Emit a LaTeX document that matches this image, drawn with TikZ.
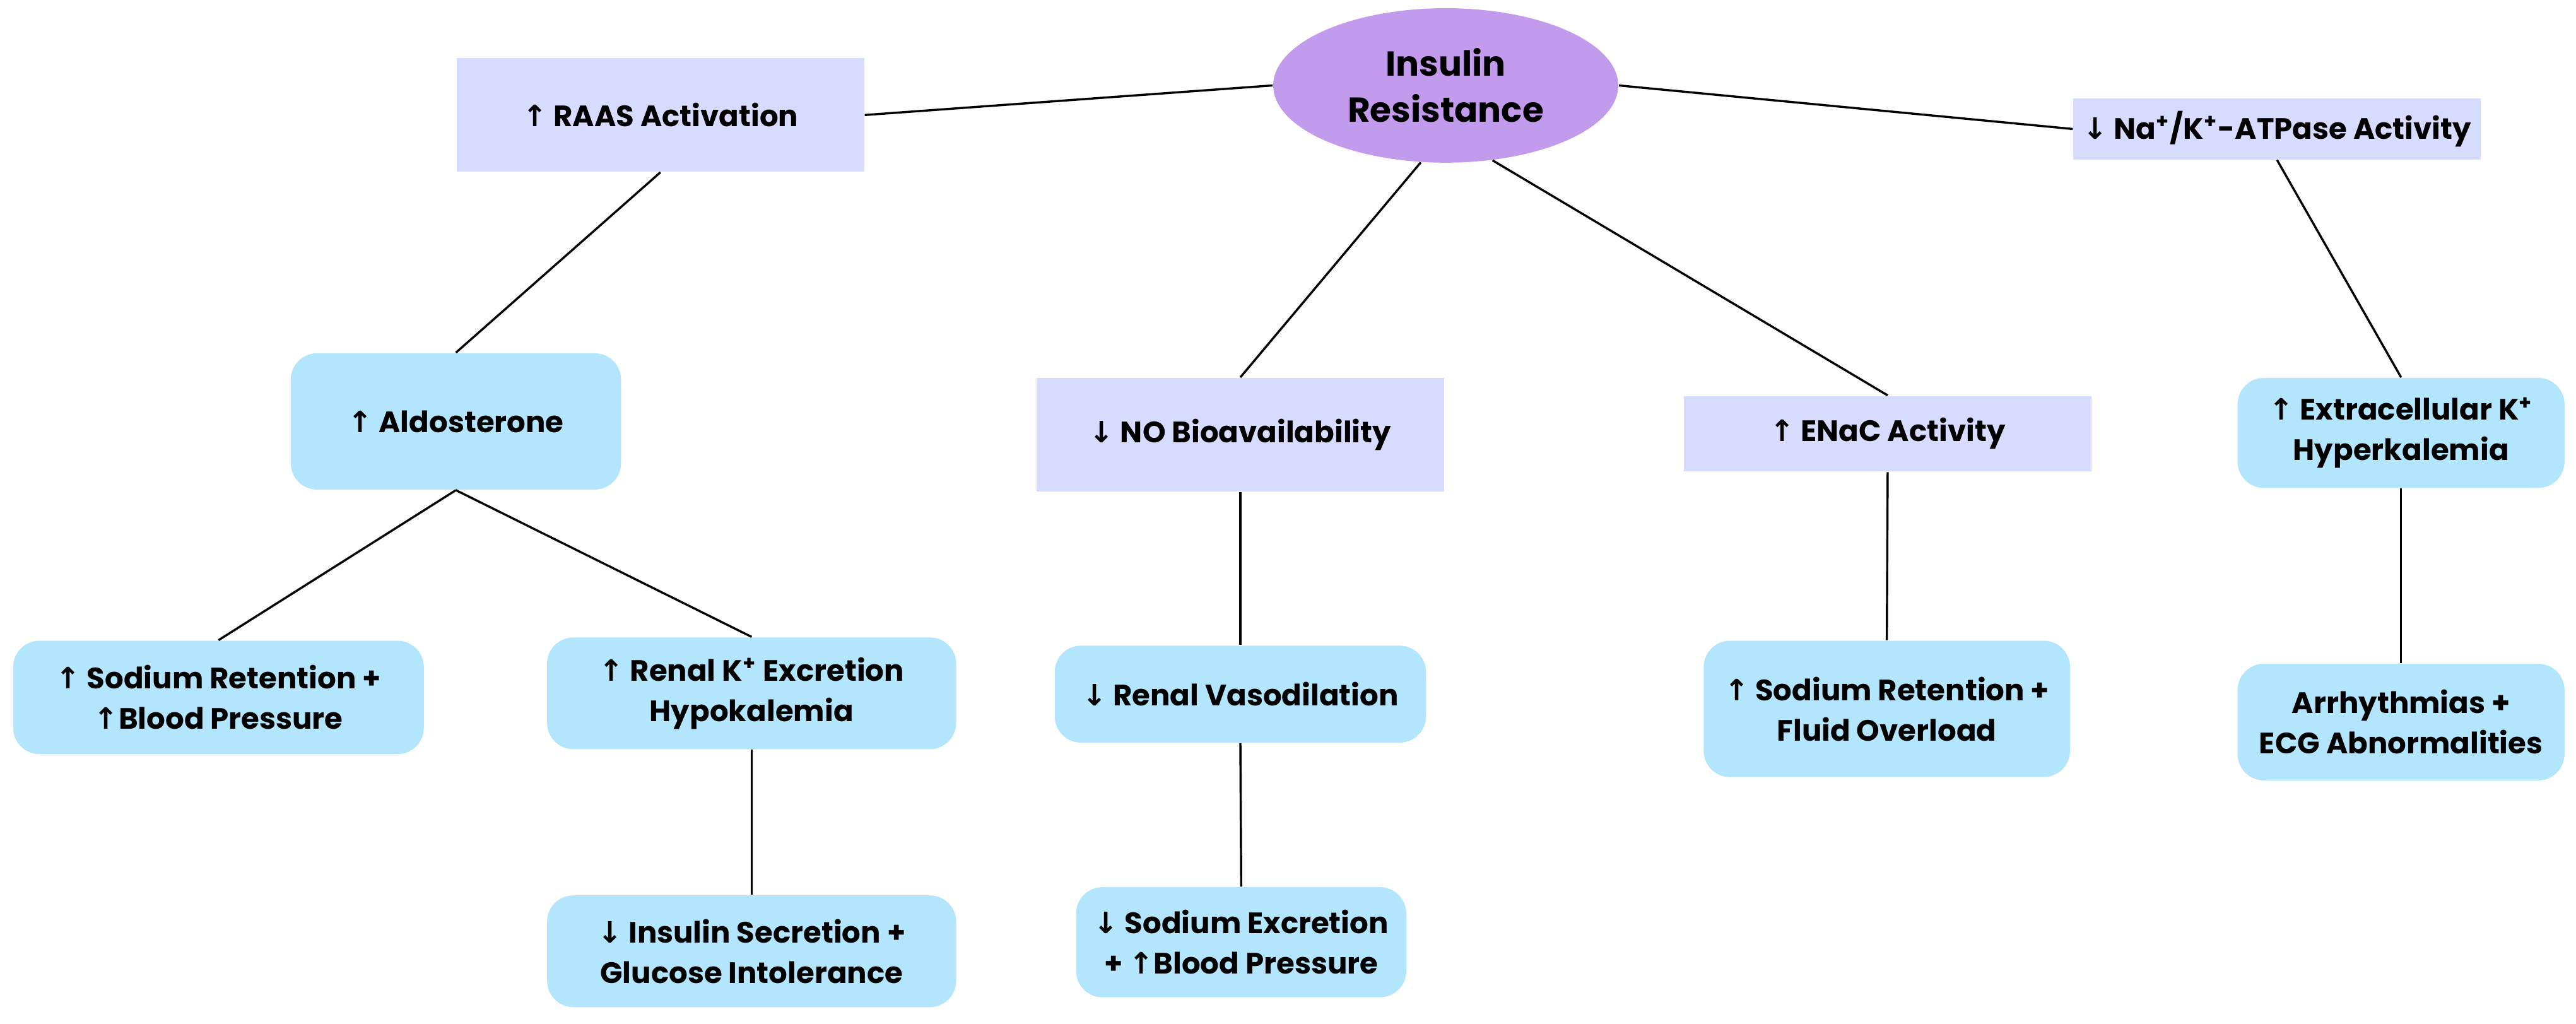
\documentclass[tikz,border=0pt]{standalone}
\usepackage{fontspec}
\setmainfont{Poppins}
\newfontfamily\arrf{DejaVu Sans}
\newcommand{\UA}{{\arrf\bfseries ↑}}
\newcommand{\DA}{{\arrf\bfseries ↓}}
\newcommand{\SP}{\textsuperscript{\scriptsize+}}
\usetikzlibrary{shapes.geometric}
\definecolor{lav}{HTML}{D7DBFD}
\definecolor{sky}{HTML}{B3E6FC}
\definecolor{purp}{HTML}{C39BEC}
\begin{document}
\begin{tikzpicture}[x=0.02cm,y=-0.02cm,
  every node/.style={font=\fontsize{10.2}{14}\selectfont\bfseries, align=center, inner sep=0pt},
  sq/.style={fill=lav, draw=none},
  rd/.style={fill=sky, draw=none, rounded corners=0.32cm},
  ln/.style={line width=0.75pt, black}]
\fill[white] (0,0) rectangle (1568,623);
\node[ellipse, fill=purp, minimum width=210*0.02cm, minimum height=94*0.02cm, font=\fontsize{12}{16}\selectfont\bfseries] (ins) at (880,52) {Insulin\\Resistance};
\node[sq, minimum width=248*0.02cm, minimum height=69*0.02cm] (raas) at (402,70) {\UA\ RAAS Activation};
\node[sq, minimum width=248*0.02cm, minimum height=37*0.02cm] (na) at (1386,78.5) {\DA\ Na\SP/K\SP-ATPase Activity};
\node[rd, minimum width=201*0.02cm, minimum height=83*0.02cm] (aldo) at (277.5,256.5) {\UA\ Aldosterone};
\node[sq, minimum width=248*0.02cm, minimum height=69*0.02cm] (no) at (755,264.5) {\DA\ NO Bioavailability};
\node[sq, minimum width=248*0.02cm, minimum height=46*0.02cm] (enac) at (1149,264) {\UA\ ENaC Activity};
\node[rd, minimum width=199*0.02cm, minimum height=67*0.02cm] (extra) at (1461.5,263.5) {\UA\ Extracellular K\SP\\Hyperkalemia};
\node[rd, minimum width=250*0.02cm, minimum height=69*0.02cm] (sod) at (133,424.5) {\UA\ Sodium Retention +\\\UA Blood Pressure};
\node[rd, minimum width=249*0.02cm, minimum height=68*0.02cm] (renk) at (457.5,422) {\UA\ Renal K\SP\ Excretion\\Hypokalemia};
\node[rd, minimum width=226*0.02cm, minimum height=59*0.02cm] (vaso) at (755,422.5) {\DA\ Renal Vasodilation};
\node[rd, minimum width=223*0.02cm, minimum height=83*0.02cm] (fluid) at (1148.5,431.5) {\UA\ Sodium Retention +\\Fluid Overload};
\node[rd, minimum width=199*0.02cm, minimum height=71*0.02cm] (arr) at (1461.5,439.5) {Arrhythmias +\\ECG Abnormalities};
\node[rd, minimum width=249*0.02cm, minimum height=68*0.02cm] (isec) at (457.5,579) {\DA\ Insulin Secretion +\\Glucose Intolerance};
\node[rd, minimum width=201*0.02cm, minimum height=67*0.02cm] (sexc) at (755.5,573.5) {\DA\ Sodium Excretion\\+ \UA Blood Pressure};
\draw[ln] (ins.180) -- (raas.east);
\draw[ln] (ins.0) -- (na.west);
\draw[ln] (raas.south) -- (aldo.north);
\draw[ln] (ins.252) -- (no.north);
\draw[ln] (ins.302) -- (enac.north);
\draw[ln] (na.south) -- (extra.north);
\draw[ln] (aldo.south) -- (sod.north);
\draw[ln] (aldo.south) -- (renk.north);
\draw[ln] (no.south) -- (vaso.north);
\draw[ln] (renk.south) -- (isec.north);
\draw[ln] (vaso.south) -- (sexc.north);
\draw[ln] (enac.south) -- (fluid.north);
\draw[ln] (extra.south) -- (arr.north);
\end{tikzpicture}
\end{document}
